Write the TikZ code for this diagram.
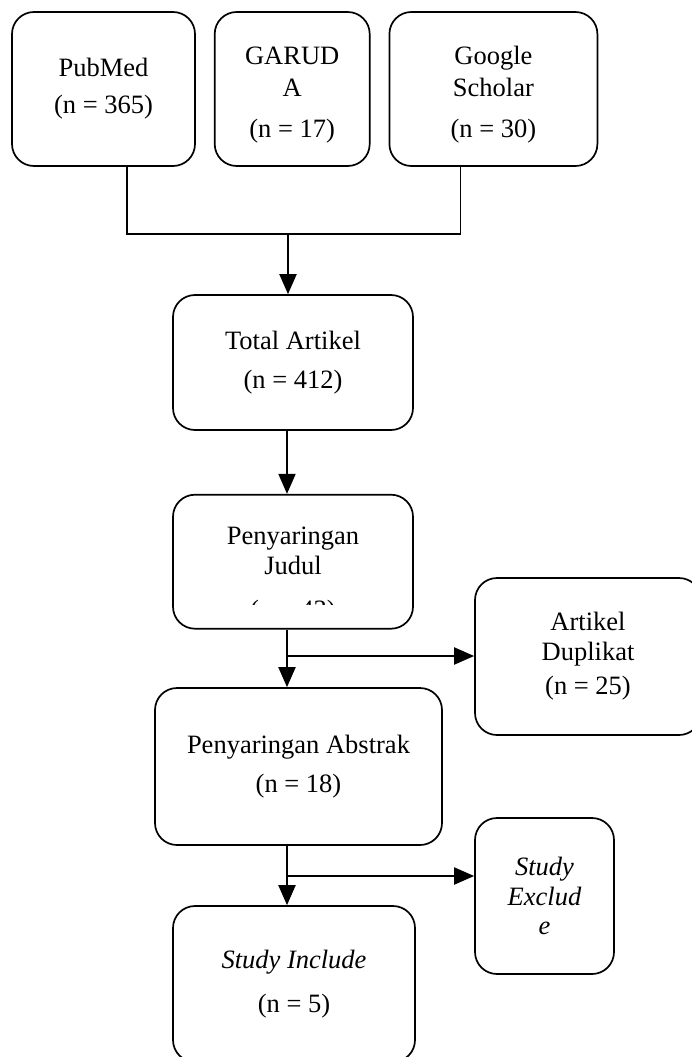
\documentclass[tikz,border=0pt]{standalone}
\usepackage{fontspec}
\setmainfont{Liberation Serif}
\usetikzlibrary{arrows.meta, positioning}

\begin{document}
\begin{tikzpicture}[x=1pt,y=-1pt,>={Triangle[length=20pt,width=17pt]},
                    txt/.style={align=center, inner sep=0pt, font=\fontsize{26.5}{29.5}\selectfont},
                    box/.style={txt, draw, rounded corners=22pt, line width=1.7pt},
                    boxit/.style={box, font=\fontsize{26.5}{29.5}\selectfont\itshape},
                    link/.style={line width=2pt},
                    bracket/.style={line width=1.4pt}]
    \useasboundingbox (0,0) rectangle (692,1057);
    \node[box, minimum width=183pt, minimum height=154pt] (pubmed) at (103.5,89) {PubMed\\[7.5pt](n = 365)};
    \node[box, minimum width=155pt, minimum height=154pt] (garuda) [right=18pt of pubmed] {\rule{0pt}{30pt}GARUD\\[2pt]A\\[11.5pt](n = 17)};
    \node[box, minimum width=208pt, minimum height=154pt] (google) [right=18pt of garuda] {\rule{0pt}{30pt}Google\\[2pt]Scholar\\[11.5pt](n = 30)};
    \node[box, minimum width=240pt, minimum height=135pt] (total) at (293,362.5) {Total Artikel\\[10pt](n = 412)};
    \node[box, minimum width=240pt, minimum height=134pt] (judul) [below=63pt of total] {};
    \node[txt] (judultxt) at (293,551) {Penyaringan\\Judul};
    \begin{scope}
        \clip (173,520) rectangle (413,604);
        \node[txt, anchor=base] (judulnum) at (293,618) {(n = 43)};
    \end{scope}
    \node[box, minimum width=226pt, minimum height=157pt] (duplikat) at (588,656.5) {Artikel\\Duplikat\\[5pt](n = 25)};
    \node[box, minimum width=287pt, minimum height=157pt] (abstrak) at (298.5,766.5) {Penyaringan Abstrak\\[9.5pt](n = 18)};
    \node[boxit, minimum width=139pt, minimum height=156pt] (exclude) at (544.5,896) {Study\\Exclud\\e};
    \node[box, minimum width=242pt, minimum height=156pt] (include) at (294,984) {\textit{Study Include}\\[14.5pt](n = 5)};

    \coordinate (join) at (288,234);
    \coordinate (split1) at (287,656);
    \coordinate (split2) at (287,876);

    \draw[bracket] ([xshift=23.5pt]pubmed.south) |- (join) -| ([xshift=-33pt]google.south);
    \draw[link,->] (join) -- (join |- total.north);
    \draw[link,->] (total.south -| split1) -- (judul.north -| split1);
    \draw[link,->] (judul.south -| split1) -- (abstrak.north -| split1);
    \draw[link,->] (split1) -- (split1 -| duplikat.west);
    \draw[link,->] (abstrak.south -| split2) -- (include.north -| split2);
    \draw[link,->] (split2) -- (split2 -| exclude.west);
\end{tikzpicture}
\end{document}
